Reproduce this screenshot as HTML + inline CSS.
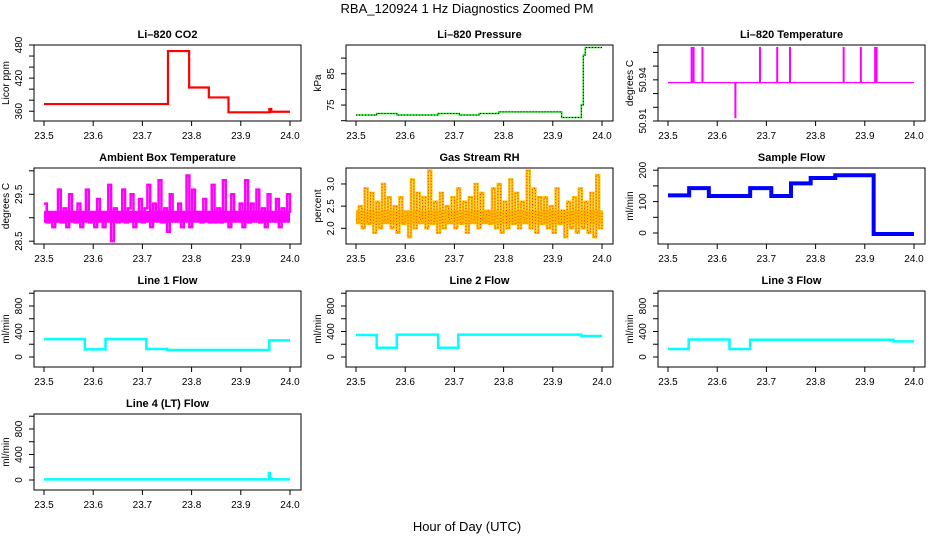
<!DOCTYPE html>
<html><head><meta charset="utf-8"><style>
body{margin:0;background:#fff;}
svg{display:block;font-family:"Liberation Sans",sans-serif;}
</style></head><body>
<svg id="chart" width="936" height="540" viewBox="0 0 936 540">
<rect width="936" height="540" fill="#fff"/>
<text x="467" y="13" font-size="13" text-anchor="middle">RBA_120924  1 Hz Diagnostics Zoomed PM</text>
<text x="467" y="531" font-size="13" text-anchor="middle">Hour of Day (UTC)</text>
</svg>
<script>
const xTicks = [23.5, 23.6, 23.7, 23.8, 23.9, 24.0];
const co2X = [23.5, 23.752, 23.795, 23.835, 23.875, 23.958, 23.962, 24.0];
const co2Y = [373, 469, 403, 385, 358, 364, 359, 359];
const presX = [23.5, 23.542, 23.583, 23.667, 23.71, 23.75, 23.79, 23.918, 23.958, 23.962, 23.966, 24.0];
const presY = [71.8, 72.3, 71.8, 72.3, 71.8, 72.3, 72.8, 71.0, 75, 91, 93.4, 93.4];
const tempBase = 50.938;
const tempSpikeX = [23.548, 23.552, 23.570, 23.687, 23.722, 23.748, 23.857, 23.892, 23.921, 23.924];
const tempSpikeY = [50.964, 50.964, 50.964, 50.964, 50.964, 50.964, 50.964, 50.964, 50.964, 50.964];
const tempDipX = [23.637];
const tempDipY = [50.912];
const ambY = [29.3,28.9,29.1,28.8,29.0,29.6,28.9,29.2,28.8,29.5,29.0,28.9,29.3,28.8,29.1,29.6,28.9,29.0,28.8,29.4,29.1,28.8,29.0,29.7,28.5,29.2,28.9,29.1,29.6,28.9,29.2,29.5,28.8,29.1,29.4,28.9,29.2,29.7,28.8,29.3,29.0,29.8,28.9,29.2,28.7,29.5,29.1,29.0,29.3,28.8,29.0,29.9,28.8,29.6,29.1,29.0,28.9,29.4,29.1,28.9,29.7,28.9,29.2,28.9,29.8,29.0,28.8,29.5,29.1,29.0,29.3,28.8,29.8,28.9,29.3,29.0,29.6,28.9,29.2,28.8,29.5,29.1,29.0,29.4,28.8,29.2,29.0,29.5,29.1];
const rhY = [2.2,2.5,2.0,2.9,2.1,2.8,1.9,2.6,2.0,3.0,2.2,2.7,2.0,2.5,1.9,2.7,2.1,2.3,1.8,3.1,2.0,2.8,2.2,2.7,2.0,3.3,2.1,2.6,1.9,2.8,2.0,2.5,2.2,2.7,2.0,2.9,2.1,2.6,1.9,2.7,2.2,3.0,2.0,2.8,2.3,2.4,2.1,2.9,2.0,3.0,1.9,2.6,2.0,3.1,2.1,2.8,2.0,2.6,2.2,3.3,2.0,2.9,1.9,2.7,2.1,2.7,2.0,2.5,1.9,2.9,2.1,2.4,1.8,2.6,2.0,2.7,1.9,2.9,2.0,2.6,1.9,2.8,1.8,3.2,2.0,2.4];
const sfX = [23.5, 23.543, 23.583, 23.667, 23.71, 23.75, 23.79, 23.84, 23.918, 24.0];
const sfY = [120, 143, 118, 143, 118, 158, 175, 184, -3, -3];
const l1X = [23.5, 23.583, 23.625, 23.708, 23.75, 23.958, 24.0];
const l1Y = [280, 120, 280, 125, 110, 260, 260];
const l2X = [23.5, 23.542, 23.583, 23.667, 23.708, 23.958, 24.0];
const l2Y = [345, 145, 350, 145, 350, 330, 330];
const l3X = [23.5, 23.542, 23.625, 23.667, 23.958, 24.0];
const l3Y = [125, 275, 125, 270, 245, 245];
const l4X = [23.5, 23.957, 23.959, 23.962, 24.0];
const l4Y = [10, 110, 30, 10, 10];

const NS = "http://www.w3.org/2000/svg";
const svg = document.getElementById('chart');
const colL = [34, 346, 658], colW = 267;
const rowT = [45, 168, 291, 414], rowH = 76;
function mk(tag, attrs, parent){const e=document.createElementNS(NS,tag);for(const k in attrs)e.setAttribute(k,attrs[k]);(parent||svg).appendChild(e);return e;}

function panel(name, col, row, title, ytitle, dom, ticks, labels){
  const g = mk('g', {});
  
  
  const L = colL[col], T = rowT[row];
  const sx = v => L + 10 + (v - 23.5) / 0.5 * (colW - 21);
  const sy = v => T + rowH - (v - dom[0]) / (dom[1] - dom[0]) * rowH;
  const t = mk('text', {x: L + colW/2, y: T - 7, 'font-size': 11, 'font-weight': 'bold', 'text-anchor': 'middle'}, g);
  t.textContent = title;
  
  
  const box = mk('rect', {x: L, y: T, width: colW, height: rowH, fill: 'none', stroke: '#000', 'stroke-width': 1}, g);
  
  
  mk('line', {x1: sx(23.5), x2: sx(24), y1: T+rowH, y2: T+rowH, stroke: '#000'}, g);
  xTicks.forEach(v => {
    mk('line', {x1: sx(v), x2: sx(v), y1: T+rowH, y2: T+rowH+5, stroke: '#000'}, g);
    const tl = mk('text', {x: sx(v), y: T+rowH+18, 'font-size': 10, 'text-anchor': 'middle'}, g);
    tl.textContent = v.toFixed(1);
    
    
  });
  mk('line', {x1: L, x2: L, y1: sy(ticks[0]), y2: sy(ticks[ticks.length-1]), stroke: '#000'}, g);
  ticks.forEach(v => {
    mk('line', {x1: L-5, x2: L, y1: sy(v), y2: sy(v), stroke: '#000'}, g);
  });
  labels.forEach(v => {
    const yl = mk('text', {x: 0, y: 0, 'font-size': 10, 'text-anchor': 'middle', transform: `translate(${L-12},${sy(v)}) rotate(-90)`}, g);
    yl.textContent = String(v);
    
    
  });
  const yt = mk('text', {x: 0, y: 0, 'font-size': 10, 'text-anchor': 'middle', transform: `translate(${L-25},${T+rowH/2}) rotate(-90)`}, g);
  yt.textContent = ytitle;
  
  
  return {g, sx, sy};
}
function stepPath(p, xs, ys){
  let d = '';
  for (let i=0;i<xs.length;i++){
    if(i===0) d += `M${p.sx(xs[0])},${p.sy(ys[0])}`;
    else d += `H${p.sx(xs[i])}V${p.sy(ys[i])}`;
  }
  return d;
}
function seriesLine(p, name, d, color, w, dash){
  const a = {d, fill: 'none', stroke: color, 'stroke-width': w};
  if (dash) a['stroke-dasharray'] = dash;
  const e = mk('path', a, p.g);
  
  
}
function noiseStep(p, ys){
  let d = '';
  ys.forEach((v,i)=>{ const x = 23.5 + i/(ys.length-1)*0.5; d += (i ? `H${p.sx(x)}V${p.sy(v)}` : `M${p.sx(x)},${p.sy(v)}`); });
  return d;
}

let p = panel('co2', 0, 0, 'Li\u2013820 CO2', 'Licor ppm', [342.3, 480], [360,380,400,420,440,460,480], [360,420,480]);
seriesLine(p, 'co2-series', stepPath(p, co2X, co2Y), '#ff0000', 2.2);
p = panel('pressure', 1, 0, 'Li\u2013820 Pressure', 'kPa', [69.9, 94.2], [70,75,80,85,90], [75,85]);
seriesLine(p, 'pressure-series', stepPath(p, presX, presY), '#00ee00', 1.5);
seriesLine(p, 'pressure-points', stepPath(p, presX, presY), '#000', 1, '1 2');
p = panel('li820-temp', 2, 0, 'Li\u2013820 Temperature', 'degrees C', [50.91, 50.9654], [50.91,50.92,50.93,50.94,50.95,50.96], [50.91,50.94]);
seriesLine(p, 'temp-baseline', `M${p.sx(23.5)},${p.sy(tempBase)}H${p.sx(24)}`, '#ff00ff', 1.2);
tempSpikeX.forEach((x,i)=>{ seriesLine(p, 'temp-spike', `M${p.sx(x)},${p.sy(tempBase)}V${p.sy(tempSpikeY[i])}`, '#ff00ff', 2); });
tempDipX.forEach((x,i)=>{ seriesLine(p, 'temp-dip', `M${p.sx(x)},${p.sy(tempBase)}V${p.sy(tempDipY[i])}`, '#ff00ff', 2); });
p = panel('ambient-temp', 0, 1, 'Ambient Box Temperature', 'degrees C', [28.44, 30.06], [28.5,29.0,29.5,30.0], [28.5,29.5]);
seriesLine(p, 'ambient-band', `M${p.sx(23.5)},${p.sy(29.02)}H${p.sx(24)}`, '#ff00ff', 12);
seriesLine(p, 'ambient-series', noiseStep(p, ambY), '#ff00ff', 2.5);
p = panel('gas-rh', 1, 1, 'Gas Stream RH', 'percent', [1.646, 3.36], [2.0,2.5,3.0], ['2.0','2.5','3.0']);
seriesLine(p, 'rh-band', `M${p.sx(23.5)},${p.sy(2.25)}H${p.sx(24)}`, '#ffa800', 14);
seriesLine(p, 'rh-series', noiseStep(p, rhY), '#ffc000', 2.5);
seriesLine(p, 'rh-points', noiseStep(p, rhY), '#ff3000', 1, '1 2');
p = panel('sample-flow', 2, 1, 'Sample Flow', 'ml/min', [-35, 207], [0,50,100,150,200], [0,100,200]);
seriesLine(p, 'sample-flow-series', stepPath(p, sfX, sfY), '#0000ff', 4);
const lt = [0,200,400,600,800,1000], ll = [0,400,800];
p = panel('line1-flow', 0, 2, 'Line 1 Flow', 'ml/min', [-157, 1035], lt, ll);
seriesLine(p, 'line1-series', stepPath(p, l1X, l1Y), '#00ffff', 2.5);
p = panel('line2-flow', 1, 2, 'Line 2 Flow', 'ml/min', [-157, 1035], lt, ll);
seriesLine(p, 'line2-series', stepPath(p, l2X, l2Y), '#00ffff', 2.5);
p = panel('line3-flow', 2, 2, 'Line 3 Flow', 'ml/min', [-157, 1035], lt, ll);
seriesLine(p, 'line3-series', stepPath(p, l3X, l3Y), '#00ffff', 2.5);
p = panel('line4-flow', 0, 3, 'Line 4 (LT) Flow', 'ml/min', [-157, 1035], lt, ll);
seriesLine(p, 'line4-series', stepPath(p, l4X, l4Y), '#00ffff', 2.5);
</script>
</body></html>
